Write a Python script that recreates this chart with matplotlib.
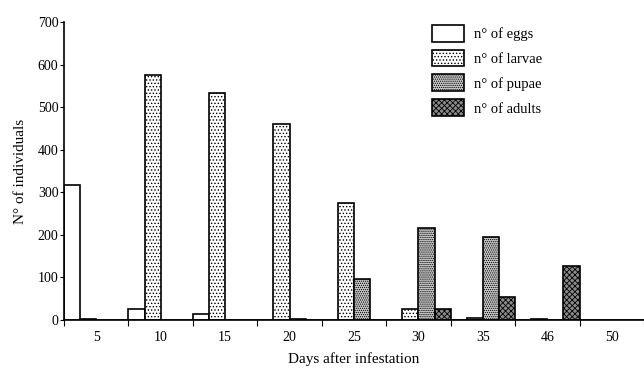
import matplotlib.pyplot as plt
import numpy as np

plt.rcParams['font.family'] = ['Liberation Serif', 'DejaVu Serif']
plt.rcParams['hatch.linewidth'] = 0.6

days = ['5', '10', '15', '20', '25', '30', '35', '46', '50']
eggs = [318, 27, 13, 0, 0, 0, 0, 0, 0]
larvae = [3, 575, 533, 460, 275, 27, 4, 2, 0]
pupae = [0, 0, 0, 2, 96, 215, 194, 0, 0]
adults = [0, 0, 0, 0, 0, 26, 54, 127, 0]

series = [
    ('n° of eggs', eggs, 'white', ''),
    ('n° of larvae', larvae, 'white', '.....'),
    ('n° of pupae', pupae, '#c8c8c8', '........'),
    ('n° of adults', adults, '#8a8a8a', 'xxxxxx'),
]

fig = plt.figure(figsize=(6.44, 3.72), dpi=100)
ax = fig.add_axes([64 / 644, 1 - 320 / 372, 580 / 644, 298 / 372])

x = np.arange(len(days))
w = 0.25
for i, (name, vals, fc, hatch) in enumerate(series):
    ax.bar(x + i * w, vals, width=w, align='edge', facecolor=fc, hatch=hatch,
           edgecolor='black', linewidth=1.2, label=name)

ax.set_xlim(0, 580 / 65)
ax.set_ylim(0, 700)
ax.set_xticks(np.arange(0, 10))
ax.set_xticklabels([])
ax.set_xticks(x + 0.5, minor=True)
ax.set_xticklabels(days, minor=True, fontsize=10)
ax.tick_params(axis='x', which='minor', length=0, pad=8)
ax.tick_params(axis='x', which='major', length=4, direction='out')
ax.set_yticks(np.arange(0, 701, 100))
ax.tick_params(axis='y', length=3, direction='out', labelsize=10, pad=1)

for s in ['top', 'right']:
    ax.spines[s].set_visible(False)
ax.spines['left'].set_linestyle((0, (2, 1)))
ax.spines['left'].set_linewidth(1.2)
ax.spines['bottom'].set_linewidth(1.2)

ax.set_ylabel('N° of individuals', fontsize=11, labelpad=8)
ax.set_xlabel('Days after infestation', fontsize=11, labelpad=6)

leg = ax.legend(loc='upper left', bbox_to_anchor=(0.612, 1.035), frameon=False,
                fontsize=10.5, handlelength=2.2, handleheight=1.4, labelspacing=0.55,
                handletextpad=0.7)

plt.savefig('out.png', dpi=100)
